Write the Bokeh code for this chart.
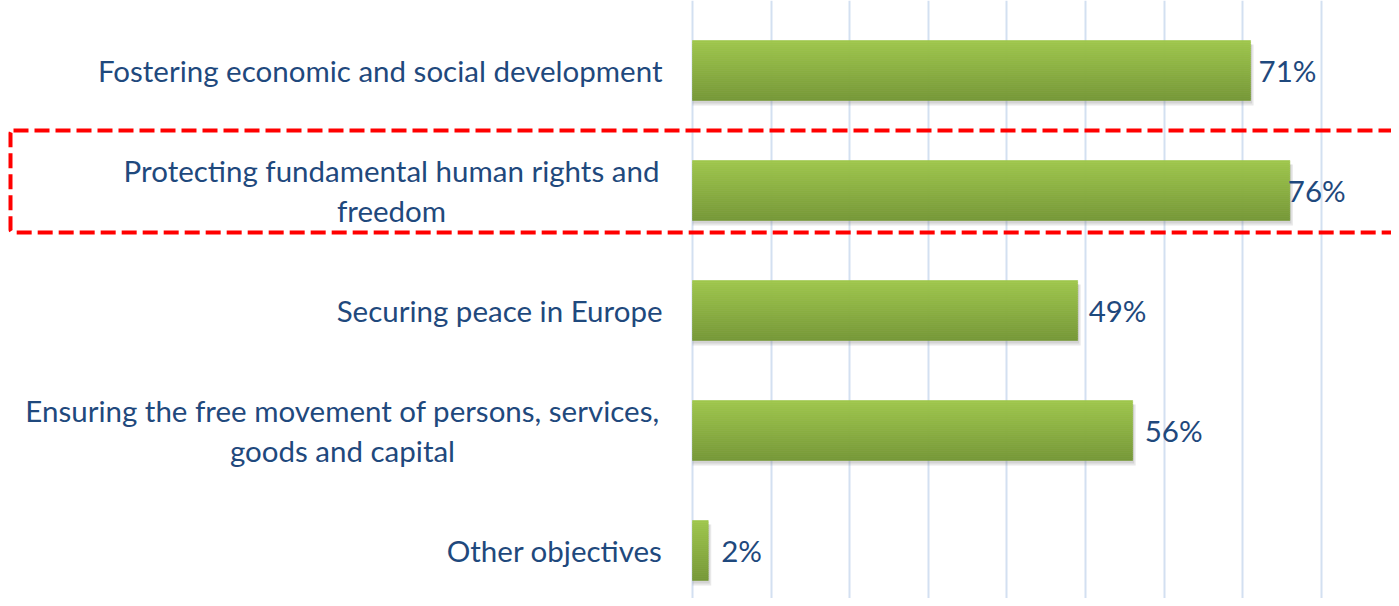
import numpy as np
from bokeh.plotting import figure
from bokeh.models import Range1d, FixedTicker, ColumnDataSource, BoxAnnotation
from bokeh.core.properties import value
from bokeh.embed import file_html
from bokeh.resources import INLINE

# ---- data ----
categories = [
    "Fostering economic and social development",
    "Protecting fundamental human rights and\nfreedom",
    "Securing peace in Europe",
    "Ensuring the free movement of persons, services,\ngoods and capital",
    "Other objectives",
]
values = [0.71, 0.76, 0.49, 0.56, 0.02]
value_labels = ["71%", "76%", "49%", "56%", "2%"]
grid_ticks = [0.0, 0.1, 0.2, 0.3, 0.4, 0.5, 0.6, 0.7, 0.8]
highlight_index = 1

# ---- style / layout ----
W, H = 1391, 598
PX_PER_UNIT = 786.0          # pixels per 100 %
ZERO_PX = 692.0              # screen x of the 0 % line
BAND_PX = 120.0
TOP_PX = 10.0
FONT = "Lato"
FSIZE = "29.5px"
TXT_COLOR = "#1F497D"
BAR_H = 0.5
TOP_COLOR = np.array([158, 198, 75])
BOT_COLOR = np.array([118, 152, 55])
N_STRIPS = 30
label_block_width = [569, 542, 327, 640, 213]   # widths of wrapped label blocks (px)
value_label_dx = [8, -2, 11, 12, 13]

n = len(categories)
ys = [n - 1 - i for i in range(n)]

x_start = -ZERO_PX / PX_PER_UNIT
x_end = (W - ZERO_PX) / PX_PER_UNIT
y_top = ys[0] + 0.5 + TOP_PX / BAND_PX
y_bot = y_top - H / BAND_PX

p = figure(width=W, height=H, output_backend="svg", toolbar_location=None,
           x_range=Range1d(x_start, x_end), y_range=Range1d(y_bot, y_top),
           min_border=0, min_border_left=0, min_border_right=0,
           min_border_top=0, min_border_bottom=0)
p.outline_line_color = None
p.xaxis.visible = False
p.yaxis.visible = False
p.ygrid.visible = False
p.xgrid.ticker = FixedTicker(ticks=grid_ticks)
p.xgrid.grid_line_color = "#D3E0F1"
p.xgrid.grid_line_width = 2
p.background_fill_color = "white"
p.border_fill_color = "white"

# shadows
sh_l, sh_r, sh_t, sh_b = [], [], [], []
for y, v in zip(ys, values):
    sh_l.append(0.0)
    sh_r.append(v + 3 / PX_PER_UNIT)
    sh_t.append(y + BAR_H / 2 - 4 / BAND_PX)
    sh_b.append(y - BAR_H / 2 - 5 / BAND_PX)
p.quad(left=sh_l, right=sh_r, top=sh_t, bottom=sh_b,
       fill_color="#808080", fill_alpha=0.18, line_color=None)
sh2 = [b + 2 / BAND_PX for b in sh_b]
p.quad(left=sh_l, right=[r - 1.5 / PX_PER_UNIT for r in sh_r], top=sh_t, bottom=sh2,
       fill_color="#808080", fill_alpha=0.2, line_color=None)

# gradient bars built from strips
L, R, T, B, C = [], [], [], [], []
sh = BAR_H / N_STRIPS
for y, v in zip(ys, values):
    top = y + BAR_H / 2
    for k in range(N_STRIPS):
        t = k / (N_STRIPS - 1)
        col = TOP_COLOR + (BOT_COLOR - TOP_COLOR) * t
        L.append(0.0)
        R.append(v)
        T.append(top - k * sh)
        B.append(top - (k + 1) * sh)
        C.append("#%02x%02x%02x" % tuple(int(round(c)) for c in col))
p.quad(source=ColumnDataSource(dict(left=L, right=R, top=T, bottom=B, color=C)),
       left="left", right="right", top="top", bottom="bottom",
       fill_color="color", line_color="color", line_width=0.6)

# value labels
p.text(x=values, y=ys, text=value_labels, x_offset=value_label_dx,
       text_align="left", text_baseline="middle",
       text_font=value(FONT), text_font_size=FSIZE, text_color=TXT_COLOR)

# category labels
sx, sy, st, sxo, syo, sal = [], [], [], [], [], []
for y, cat, w in zip(ys, categories, label_block_width):
    lines = cat.split("\n")
    m = len(lines)
    for j, line in enumerate(lines):
        sx.append(0.0)
        sy.append(y)
        st.append(line)
        syo.append((j - (m - 1) / 2) * 40)
        if m == 1:
            sxo.append(-30)
            sal.append("right")
        else:
            sxo.append(-30 - w / 2)
            sal.append("center")
p.text(source=ColumnDataSource(dict(x=sx, y=sy, text=st, xo=sxo, yo=syo, al=sal)),
       x="x", y="y", text="text", x_offset="xo", y_offset="yo", text_align="al",
       text_baseline="middle", text_font=value(FONT), text_font_size=FSIZE,
       text_color=TXT_COLOR)

# highlight box
hy = ys[highlight_index]
box = BoxAnnotation(left=10, left_units="screen", right=W + 20, right_units="screen",
                    top=hy + 0.5, bottom=hy - 0.35,
                    fill_alpha=0, fill_color=None,
                    line_color="#FF0000", line_alpha=1.0, line_width=4,
                    line_dash="15 6", border_radius=3, level="overlay")
p.add_layout(box)

open("out.html", "w").write(file_html(p, INLINE))
